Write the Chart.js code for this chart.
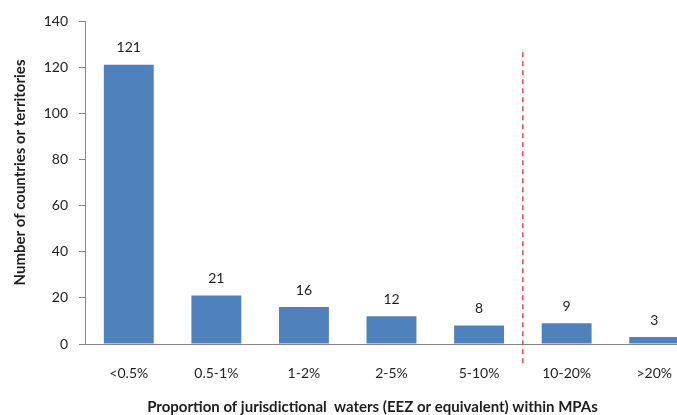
<!DOCTYPE html>
<html>
<head>
<meta charset="utf-8">
<script src="https://cdn.jsdelivr.net/npm/chart.js@4/dist/chart.umd.min.js"></script>
<style>
  html, body { margin: 0; padding: 0; background: #fff; overflow: hidden; }
  #wrap { width: 698px; height: 415px; }
</style>
</head>
<body>
<div id="wrap"><canvas id="mpaChart" width="698" height="415"></canvas></div>
<script>
// categories and counts
const categories = ['<0.5%', '0.5-1%', '1-2%', '2-5%', '5-10%', '10-20%', '>20%'];
const countries = [121, 21, 16, 12, 8, 9, 3];
const yMin = 0;
const yMax = 140;
const yStep = 20;
// the red dashed marker sits between "5-10%" and "10-20%"
const markerAt = 4.5;

const xTitle = 'Proportion of jurisdictional  waters (EEZ or equivalent) within MPAs';
const yTitle = 'Number of countries or territories';

const font = 'Lato, "Open Sans", sans-serif';
const textColor = '#1e1e1e';
const axisColor = '#868686';

// numbers above each bar
const barLabels = {
  id: 'barLabels',
  afterDatasetsDraw(chart) {
    const ctx = chart.ctx;
    const meta = chart.getDatasetMeta(0);
    ctx.save();
    ctx.font = '14px ' + font;
    ctx.fillStyle = textColor;
    ctx.textAlign = 'center';
    ctx.textBaseline = 'middle';
    meta.data.forEach((bar, i) => {
      ctx.fillText(String(countries[i]), bar.x, bar.y - 17);
    });
    ctx.restore();
  }
};

// vertical dashed line
const markerLine = {
  id: 'markerLine',
  afterDatasetsDraw(chart) {
    const x = chart.scales.x.getPixelForValue(markerAt);
    const y = chart.scales.y;
    const ctx = chart.ctx;
    ctx.save();
    ctx.strokeStyle = '#e0454c';
    ctx.lineWidth = 1.5;
    ctx.setLineDash([5, 4]);
    ctx.beginPath();
    ctx.moveTo(x, y.getPixelForValue(126.5));
    ctx.lineTo(x, y.getPixelForValue(-9));
    ctx.stroke();
    ctx.restore();
  }
};

// axis titles, placed like the original (a bit left / up of the plot centre)
const axisTitles = {
  id: 'axisTitles',
  afterDraw(chart) {
    const area = chart.chartArea;
    const ctx = chart.ctx;
    ctx.save();
    ctx.font = 'bold 15px ' + font;
    ctx.fillStyle = textColor;
    ctx.textAlign = 'center';
    ctx.textBaseline = 'middle';
    ctx.fillText(xTitle, (area.left + area.right) / 2 - 19, chart.height - 8);
    ctx.translate(20, (area.top + area.bottom) / 2 - 10);
    ctx.rotate(-Math.PI / 2);
    ctx.fillText(yTitle, 0, 0);
    ctx.restore();
  }
};

new Chart(document.getElementById('mpaChart'), {
  type: 'bar',
  data: {
    labels: categories,
    datasets: [{
      data: countries,
      backgroundColor: '#4f81bd',
      borderWidth: 0,
      categoryPercentage: 1,
      barPercentage: 0.57
    }]
  },
  options: {
    responsive: false,
    animation: false,
    layout: { padding: { top: 21, left: 0, right: 0, bottom: 0 } },
    plugins: {
      legend: { display: false },
      tooltip: { enabled: false }
    },
    scales: {
      x: {
        afterFit: s => { s.height = 71; },
        grid: { display: false, drawTicks: false },
        border: { display: true, color: axisColor, width: 1 },
        ticks: { color: textColor, font: { family: font, size: 14 }, padding: 21, maxRotation: 0 }
      },
      y: {
        min: yMin,
        max: yMax,
        afterFit: s => { s.width = 85; },
        grid: { drawOnChartArea: false, drawTicks: true, tickLength: 6, color: axisColor },
        border: { display: true, color: axisColor, width: 1 },
        ticks: { stepSize: yStep, color: textColor, font: { family: font, size: 14 }, padding: 11 }
      }
    }
  },
  plugins: [barLabels, markerLine, axisTitles]
});
</script>
</body>
</html>
